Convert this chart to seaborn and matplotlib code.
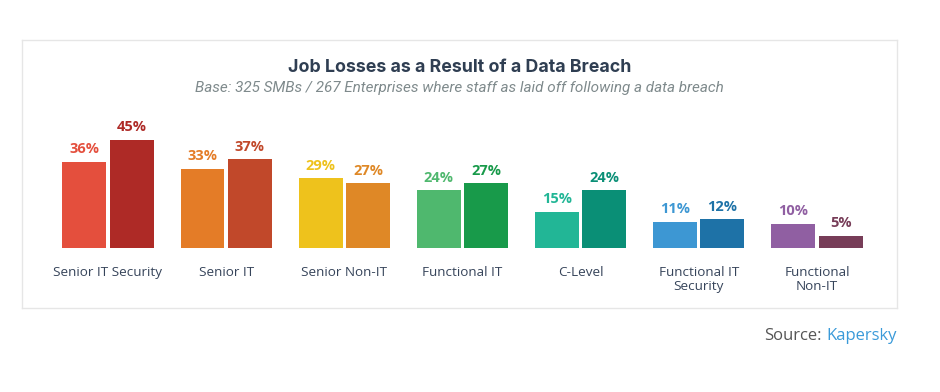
import pandas as pd
import seaborn as sns
import matplotlib.pyplot as plt

# Dados
categorias = ["Senior IT Security", "Senior IT", "Senior Non-IT", "Functional IT",
              "C-Level", "Functional IT\nSecurity", "Functional\nNon-IT"]
smb = [36, 33, 29, 24, 15, 11, 10]
enterprise = [45, 37, 27, 27, 24, 12, 5]

cores_smb = ["#e44f3d", "#e47c27", "#eec21c", "#4fb86e", "#22b696", "#3d97d3", "#905fa2"]
cores_ent = ["#ae2a26", "#c1482a", "#df8826", "#189a4a", "#0a8f76", "#1e72a7", "#773d58"]

df = pd.DataFrame({
    "categoria": categorias * 2,
    "grupo": ["SMB"] * len(categorias) + ["Enterprise"] * len(categorias),
    "valor": smb + enterprise,
})

sns.set_style("white")
plt.rcParams["font.family"] = ["Open Sans", "DejaVu Sans"]

W, H = 940, 392
fig = plt.figure(figsize=(W / 100, H / 100), dpi=100)
# eixo ocupa a caixa (px: x 22..897, y 40..308)
x0, x1, y0, y1 = 22, 897, 40, 308
ax = fig.add_axes([x0 / W, 1 - y1 / H, (x1 - x0) / W, (y1 - y0) / H])

sns.barplot(data=df, x="categoria", y="valor", hue="grupo", order=categorias,
            hue_order=["SMB", "Enterprise"], width=0.8, gap=0.07, legend=False,
            errorbar=None, ax=ax)

for barra, cor in zip(ax.containers[0], cores_smb):
    barra.set_facecolor(cor)
    barra.set_edgecolor("none")
for barra, cor in zip(ax.containers[1], cores_ent):
    barra.set_facecolor(cor)
    barra.set_edgecolor("none")

for cont, cores in zip(ax.containers, [cores_smb, cores_ent]):
    labels = ax.bar_label(cont, fmt="%d%%", padding=4, fontsize=10.5, fontweight="bold")
    for lab, cor in zip(labels, cores):
        lab.set_color(cor)

# escala: 118.2 px por categoria, 2.4 px por ponto percentual
ppx = 118.2
ax.set_xlim(-(108 - x0) / ppx, 6 + (x1 - 817) / ppx)
ax.set_ylim(-(y1 - 248) / 2.4, (248 - y0) / 2.4)
ax.set_xticks([])
ax.set_yticks([])
ax.set_xlabel("")
ax.set_ylabel("")
for sp in ax.spines.values():
    sp.set_color("#e6e6e6")
    sp.set_linewidth(1)

for i, cat in enumerate(categorias):
    ax.text(i, -7.5, cat, ha="center", va="top", fontsize=9.7, color="#36445a",
            linespacing=1.08)

ax.text(0.5, 1 - (67 - y0) / (y1 - y0), "Job Losses as a Result of a Data Breach",
        transform=ax.transAxes, ha="center", va="center", fontsize=12.8,
        fontweight="bold", color="#2f3e52", family=["Inter", "DejaVu Sans"])
ax.text(0.5, 1 - (88 - y0) / (y1 - y0),
        "Base: 325 SMBs / 267 Enterprises where staff as laid off following a data breach",
        transform=ax.transAxes, ha="center", va="center", fontsize=11,
        style="italic", color="#7f8a8c", family=["Roboto", "DejaVu Sans"])

# Fonte
fonte = fig.text(897 / W, 1 - 336 / H, "Kapersky", ha="right", va="center",
                 fontsize=12, color="#3a9ad9")
fig.canvas.draw()
bb = fonte.get_window_extent()
fig.text((bb.x0 - 5) / W, 1 - 336 / H, "Source:", ha="right", va="center",
         fontsize=12, color="#555555")

fig.savefig("out.png", dpi=100)
plt.close()
